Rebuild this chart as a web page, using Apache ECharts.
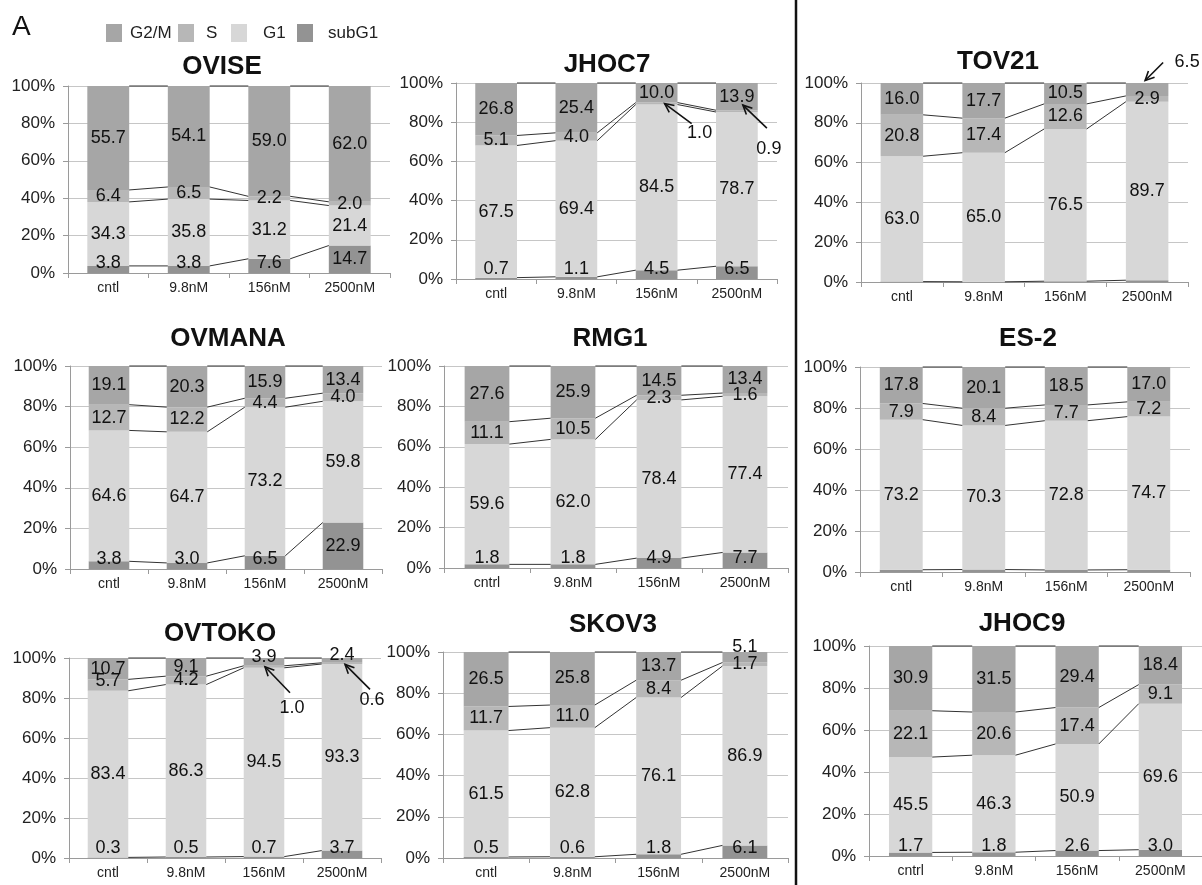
<!DOCTYPE html>
<html>
<head>
<meta charset="utf-8">
<script src="https://cdn.jsdelivr.net/npm/echarts@6/dist/echarts.min.js"></script>
<style>
  html, body { margin: 0; padding: 0; background: #ffffff; }
  #chart { width: 1202px; height: 885px; }
</style>
</head>
<body>
<div id="chart"></div>
<script>
// Dose groups (x categories)
const doseCats = ['cntl', '9.8nM', '156nM', '2500nM'];
const doseCatsR = ['cntrl', '9.8nM', '156nM', '2500nM'];
const yTicks = [0, 20, 40, 60, 80, 100];

// Cell-cycle phase fractions (%) per cell line, one value per dose
const OVISE_subG1 = [3.8, 3.8, 7.6, 14.7];
const OVISE_G1 = [34.3, 35.8, 31.2, 21.4];
const OVISE_S = [6.4, 6.5, 2.2, 2.0];
const OVISE_G2M = [55.7, 54.1, 59.0, 62.0];

const JHOC7_subG1 = [0.7, 1.1, 4.5, 6.5];
const JHOC7_G1 = [67.5, 69.4, 84.5, 78.7];
const JHOC7_S = [5.1, 4.0, 1.0, 0.9];
const JHOC7_G2M = [26.8, 25.4, 10.0, 13.9];

const TOV21_subG1 = [0.2, 0.1, 0.4, 0.9];
const TOV21_G1 = [63.0, 65.0, 76.5, 89.7];
const TOV21_S = [20.8, 17.4, 12.6, 2.9];
const TOV21_G2M = [16.0, 17.7, 10.5, 6.5];

const OVMANA_subG1 = [3.8, 3.0, 6.5, 22.9];
const OVMANA_G1 = [64.6, 64.7, 73.2, 59.8];
const OVMANA_S = [12.7, 12.2, 4.4, 4.0];
const OVMANA_G2M = [19.1, 20.3, 15.9, 13.4];

const RMG1_subG1 = [1.8, 1.8, 4.9, 7.7];
const RMG1_G1 = [59.6, 62.0, 78.4, 77.4];
const RMG1_S = [11.1, 10.5, 2.3, 1.6];
const RMG1_G2M = [27.6, 25.9, 14.5, 13.4];

const ES2_subG1 = [1.1, 1.2, 1.0, 1.1];
const ES2_G1 = [73.2, 70.3, 72.8, 74.7];
const ES2_S = [7.9, 8.4, 7.7, 7.2];
const ES2_G2M = [17.8, 20.1, 18.5, 17.0];

const OVTOKO_subG1 = [0.3, 0.5, 0.7, 3.7];
const OVTOKO_G1 = [83.4, 86.3, 94.5, 93.3];
const OVTOKO_S = [5.7, 4.2, 1.0, 0.6];
const OVTOKO_G2M = [10.7, 9.1, 3.9, 2.4];

const SKOV3_subG1 = [0.5, 0.6, 1.8, 6.1];
const SKOV3_G1 = [61.5, 62.8, 76.1, 86.9];
const SKOV3_S = [11.7, 11.0, 8.4, 1.7];
const SKOV3_G2M = [26.5, 25.8, 13.7, 5.1];

const JHOC9_subG1 = [1.7, 1.8, 2.6, 3.0];
const JHOC9_G1 = [45.5, 46.3, 50.9, 69.6];
const JHOC9_S = [22.1, 20.6, 17.4, 9.1];
const JHOC9_G2M = [30.9, 31.5, 29.4, 18.4];

// Stack order bottom -> top, and legend order
const phaseNames = ['subG1', 'G1', 'S', 'G2/M'];
const legendOrder = ['G2/M', 'S', 'G1', 'subG1'];
const phaseColors = { 'G2/M': '#a6a6a6', 'S': '#b7b7b7', 'G1': '#d7d7d7', 'subG1': '#939393' };

const FONT = '"Liberation Sans", Arial, Helvetica, sans-serif';
const BAR_RATIO = 0.52;

// Panel layout: plot box [left, top, width, height] and title centre/top
const panels = [
  { name: 'OVISE',  cats: doseCats,  vals: [OVISE_subG1, OVISE_G1, OVISE_S, OVISE_G2M],     box: [68, 86, 322, 187],  title: [222, 54] },
  { name: 'JHOC7',  cats: doseCats,  vals: [JHOC7_subG1, JHOC7_G1, JHOC7_S, JHOC7_G2M],     box: [456, 83, 321, 196], title: [607, 52] },
  { name: 'TOV21',  cats: doseCats,  vals: [TOV21_subG1, TOV21_G1, TOV21_S, TOV21_G2M],     box: [861, 83, 327, 199], title: [998, 49] },
  { name: 'OVMANA', cats: doseCats,  vals: [OVMANA_subG1, OVMANA_G1, OVMANA_S, OVMANA_G2M], box: [70, 366, 312, 203], title: [228, 326] },
  { name: 'RMG1',   cats: doseCatsR, vals: [RMG1_subG1, RMG1_G1, RMG1_S, RMG1_G2M],         box: [444, 366, 344, 202], title: [610, 326] },
  { name: 'ES-2',   cats: doseCats,  vals: [ES2_subG1, ES2_G1, ES2_S, ES2_G2M],             box: [860, 367, 330, 205], title: [1028, 326] },
  { name: 'OVTOKO', cats: doseCats,  vals: [OVTOKO_subG1, OVTOKO_G1, OVTOKO_S, OVTOKO_G2M], box: [69, 658, 312, 200], title: [220, 621] },
  { name: 'SKOV3',  cats: doseCats,  vals: [SKOV3_subG1, SKOV3_G1, SKOV3_S, SKOV3_G2M],     box: [443, 652, 345, 206], title: [613, 612] },
  { name: 'JHOC9',  cats: doseCatsR, vals: [JHOC9_subG1, JHOC9_G1, JHOC9_S, JHOC9_G2M],     box: [869, 646, 339, 210], title: [1022, 611] }
];

// Segments whose value label is not printed inside the bar
const hiddenLabels = {
  'TOV21|0': [0, 1, 2, 3], 'ES-2|0': [0, 1, 2, 3],
  'JHOC7|2': [2, 3], 'OVTOKO|2': [2, 3], 'TOV21|3': [3]
};
// Manual vertical nudges of labels (px)
const labelNudges = { 'SKOV3|3|3': -10, 'OVTOKO|3|2': -5, 'OVTOKO|3|3': -5, 'OVTOKO|2|0': -4 };

// Values called out with an arrow: tip offset from segment centre, tail offset from tip, label offset from tail
const callouts = [
  { panel: 'JHOC7',  phase: 2, cat: 2, tip: [8, 0],   tail: [27, 20],  text: [8, 9] },
  { panel: 'JHOC7',  phase: 2, cat: 3, tip: [6, -6],  tail: [24, 23],  text: [2, 21] },
  { panel: 'TOV21',  phase: 3, cat: 3, tip: [-2, -9], tail: [18, -18], text: [24, 0] },
  { panel: 'OVTOKO', phase: 2, cat: 2, tip: [1, 0],   tail: [25, 26],  text: [2, 15] },
  { panel: 'OVTOKO', phase: 2, cat: 3, tip: [3, 1],   tail: [25, 25],  text: [2, 11] }
];

const option = {
  backgroundColor: '#ffffff',
  animation: false,
  textStyle: { fontFamily: FONT },
  title: [],
  legend: [],
  grid: [],
  xAxis: [],
  yAxis: [],
  series: [],
  graphic: [
    { type: 'text', left: 12, top: 13, style: { text: 'A', font: '28px ' + FONT, fill: '#111' } },
    { type: 'line', shape: { x1: 796, y1: 0, x2: 796, y2: 885 }, style: { stroke: '#111', lineWidth: 2.5 } }
  ]
};

// Legend: one component per item so each sits where the key places it
const legendLefts = [106, 178, 231, 297];
const legendPads = [3, 7, 11, 10];
legendOrder.forEach(function (n, i) {
  option.legend.push({
    data: [n], left: legendLefts[i], top: 24, padding: 0,
    icon: 'rect', itemWidth: 16, itemHeight: 18, selectedMode: false,
    textStyle: { fontSize: 17, color: '#222', fontFamily: FONT, padding: [0, 0, 0, legendPads[i]] }
  });
});

panels.forEach(function (p, k) {
  const nCat = p.cats.length;
  const totals = [];
  for (let c = 0; c < nCat; c++) {
    let t = 0;
    p.vals.forEach(function (arr) { t += arr[c]; });
    totals.push(t);
  }
  // cumulative tops of each phase, normalised to 100 %
  const cum = [];
  let run = new Array(nCat).fill(0);
  p.vals.forEach(function (arr) {
    run = run.map(function (r, c) { return r + arr[c] / totals[c] * 100; });
    cum.push(run.slice());
  });

  const [gl, gt, gw, gh] = p.box;
  option.grid.push({ left: gl, top: gt, width: gw, height: gh, containLabel: false });
  option.title.push({
    text: p.name, left: p.title[0], top: p.title[1], textAlign: 'center', padding: 0,
    textStyle: { fontSize: 26, fontWeight: 'bold', color: '#111', fontFamily: FONT }
  });
  option.xAxis.push({
    type: 'category', gridIndex: k, data: p.cats, boundaryGap: true,
    axisLine: { lineStyle: { color: '#9a9a9a', width: 1 } },
    axisTick: { show: true, length: 5, lineStyle: { color: '#9a9a9a' } },
    axisLabel: { fontSize: 14, color: '#222', margin: 8, fontFamily: FONT },
    splitLine: { show: false }
  });
  option.yAxis.push({
    type: 'value', gridIndex: k, min: 0, max: 100, interval: 20,
    axisLine: { show: true, lineStyle: { color: '#9a9a9a', width: 1 } },
    axisTick: { show: true, length: 5, lineStyle: { color: '#9a9a9a' } },
    axisLabel: { fontSize: 17, color: '#222', margin: 13, fontFamily: FONT,
      formatter: function (v) { return yTicks.indexOf(v) >= 0 ? v + '%' : ''; } },
    splitLine: { show: true, lineStyle: { color: '#c6c6c6', width: 1 } }
  });

  p.vals.forEach(function (arr, ph) {
    const hidden = hiddenLabels[p.name + '|' + ph] || [];
    const data = arr.map(function (v, c) {
      const pct = v / totals[c] * 100;
      const mid = (cum[ph][c] - pct / 2) / 100 * gh; // px above the baseline
      let dy = labelNudges[p.name + '|' + ph + '|' + c] || 0;
      if (mid < 9.5) dy += -(9.5 - mid);
      const item = { value: pct, raw: v };
      if (hidden.indexOf(c) >= 0) item.label = { show: false };
      else if (dy) item.label = { offset: [0, dy] };
      return item;
    });
    option.series.push({
      type: 'bar', name: phaseNames[ph], xAxisIndex: k, yAxisIndex: k,
      stack: 'cells' + k, barWidth: (BAR_RATIO * 100) + '%', data: data,
      itemStyle: { color: phaseColors[phaseNames[ph]] },
      label: {
        show: true, position: 'inside', fontSize: 18, color: '#111', fontFamily: FONT,
        formatter: function (prm) { return prm.data.raw.toFixed(1); }
      },
      emphasis: { disabled: true }
    });
  });

  // series lines joining the top of every phase between neighbouring bars
  const segs = [];
  for (let c = 0; c < nCat - 1; c++) segs.push([c, 0]);
  option.series.push({
    type: 'custom', xAxisIndex: k, yAxisIndex: k, silent: true, z: 5,
    encode: { x: 0, y: 1 }, data: segs,
    renderItem: function (params, api) {
      const i = api.value(0);
      const half = api.size([1, 0])[0] * BAR_RATIO / 2;
      const children = [];
      for (let L = 0; L < cum.length; L++) {
        const a = api.coord([i, cum[L][i]]);
        const b = api.coord([i + 1, cum[L][i + 1]]);
        children.push({ type: 'line', shape: { x1: a[0] + half, y1: a[1], x2: b[0] - half, y2: b[1] },
          style: { stroke: '#333', lineWidth: 1 } });
      }
      return { type: 'group', children: children };
    }
  });

  // arrow call-outs for thin segments
  const mine = callouts.filter(function (co) { return co.panel === p.name; });
  if (mine.length) {
    option.series.push({
      type: 'custom', xAxisIndex: k, yAxisIndex: k, silent: true, z: 6, clip: false,
      encode: { x: 0, y: 1 },
      data: mine.map(function (co) {
        const pct = p.vals[co.phase][co.cat] / totals[co.cat] * 100;
        return [co.cat, cum[co.phase][co.cat] - pct / 2];
      }),
      renderItem: function (params, api) {
        const co = mine[params.dataIndex];
        const c = api.coord([api.value(0), api.value(1)]);
        const tx = c[0] + co.tip[0], ty = c[1] + co.tip[1];
        const sx = tx + co.tail[0], sy = ty + co.tail[1];
        const ang = Math.atan2(sy - ty, sx - tx);
        const hl = 10, spread = 0.45;
        const h1 = [tx + hl * Math.cos(ang + spread), ty + hl * Math.sin(ang + spread)];
        const h2 = [tx + hl * Math.cos(ang - spread), ty + hl * Math.sin(ang - spread)];
        return {
          type: 'group', children: [
            { type: 'line', shape: { x1: sx, y1: sy, x2: tx, y2: ty }, style: { stroke: '#111', lineWidth: 1.6 } },
            { type: 'polyline', shape: { points: [h1, [tx, ty], h2] }, style: { stroke: '#111', lineWidth: 1.6, fill: null } },
            { type: 'text', x: sx + co.text[0], y: sy + co.text[1],
              style: { text: p.vals[co.phase][co.cat].toFixed(1), font: '18px ' + FONT, fill: '#111',
                align: 'center', verticalAlign: 'middle' } }
          ]
        };
      }
    });
  }
});

const chart = echarts.init(document.getElementById('chart'), null, { renderer: 'canvas' });
chart.setOption(option);
</script>
</body>
</html>
